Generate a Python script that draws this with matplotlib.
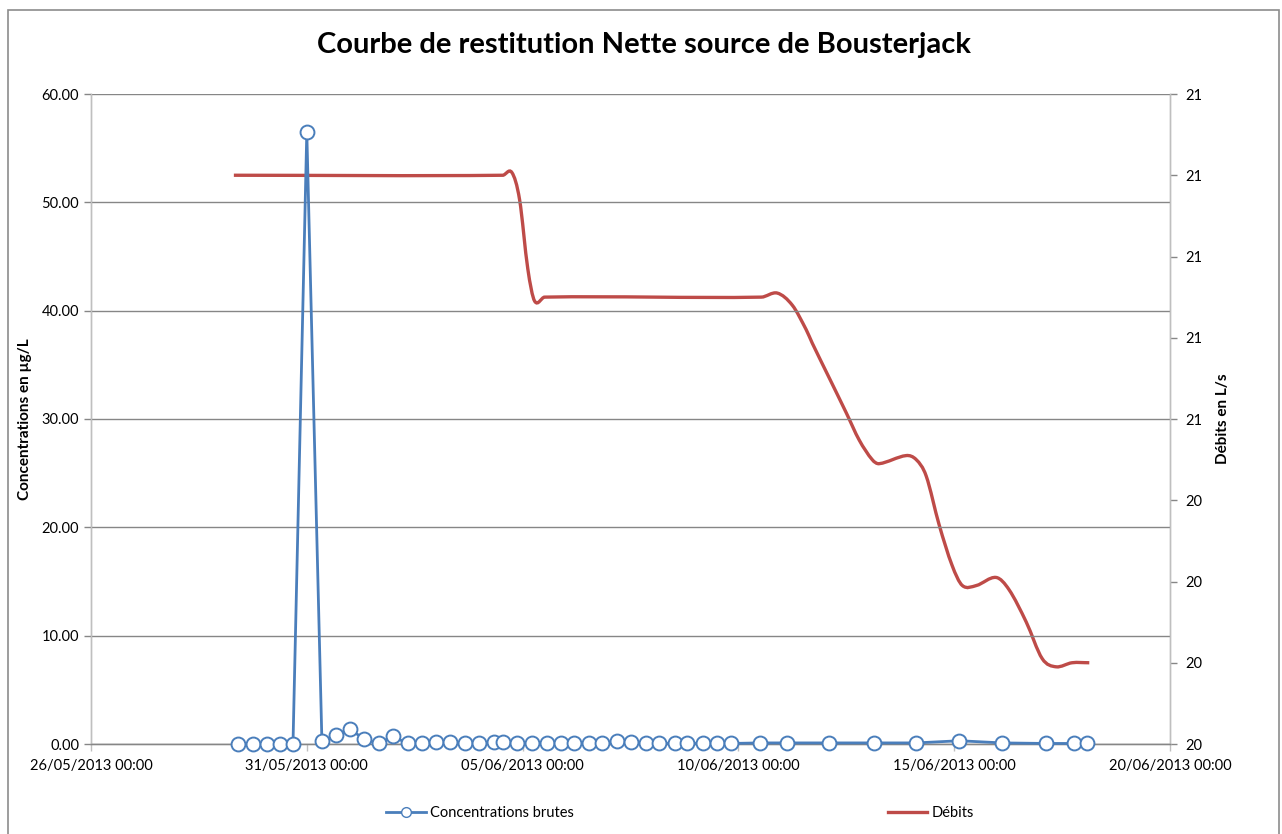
import numpy as np
import pandas as pd
import matplotlib
matplotlib.use("Agg")
import matplotlib.pyplot as plt
import matplotlib.dates as mdates
from matplotlib.ticker import FuncFormatter, MultipleLocator
from matplotlib.lines import Line2D
from matplotlib.patches import Rectangle, PathPatch
from matplotlib.path import Path

plt.rcParams['font.family'] = ['Lato', 'DejaVu Sans']

# =========================
# Data (time in days after 26/05/2013 00:00)
# =========================
start = pd.Timestamp("2013-05-26 00:00")

conc_days = [3.40, 3.75, 4.07, 4.375, 4.68, 5.00, 5.35, 5.67, 6.00, 6.32,
             6.67, 6.99, 7.34, 7.66, 7.99, 8.31, 8.66, 8.98, 9.33, 9.54,
             9.86, 10.21, 10.56, 10.88, 11.20, 11.53, 11.85, 12.18, 12.52, 12.87,
             13.17, 13.52, 13.82, 14.17, 14.51, 14.84, 15.49, 16.13, 17.11, 18.15,
             19.12, 20.12, 21.11, 22.13, 22.78, 23.08]
conc_vals = [0, 0, 0, 0, 0, 56.5, 0.25, 0.8, 1.4, 0.45,
             0.05, 0.7, 0.05, 0.05, 0.2, 0.15, 0.05, 0.05, 0.2, 0.2,
             0.05, 0.05, 0.05, 0.05, 0.05, 0.05, 0.05, 0.3, 0.2, 0.05,
             0.05, 0.05, 0.05, 0.05, 0.05, 0.05, 0.1, 0.1, 0.1, 0.1,
             0.1, 0.3, 0.1, 0.05, 0.05, 0.05]

debit_days = [3.31, 9.54, 9.75, 9.93, 10.12, 10.28, 10.51, 15.53, 15.90, 16.25,
              16.57, 16.71, 17.11, 17.50, 17.80, 18.10, 18.26, 18.89, 19.12, 19.35,
              19.65, 19.95, 20.19, 20.51, 20.97, 21.27, 21.67, 22.04, 22.36, 22.73,
              23.13]
debit_vals = [21.20, 21.20, 21.207, 21.14, 20.97, 20.89, 20.90, 20.90, 20.91, 20.88,
              20.82, 20.787, 20.70, 20.615, 20.548, 20.50, 20.49, 20.51, 20.50, 20.46,
              20.34, 20.24, 20.19, 20.19, 20.21, 20.18, 20.10, 20.01, 19.99, 20.00,
              20.00]

conc_t = start + pd.to_timedelta(conc_days, unit="D")
debit_t = start + pd.to_timedelta(debit_days, unit="D")

blue = "#4A7EBB"
red = "#BE4B48"
grid_c = "#868686"
spine_c = "#BFBFBF"


def smooth_path(xs, ys):
    # smoothed line like Excel: cubic Hermite segments written as Beziers
    xs = np.asarray(xs, float)
    ys = np.asarray(ys, float)
    n = len(xs)
    m = np.zeros(n)
    for i in range(n):
        a = max(i - 1, 0)
        b = min(i + 1, n - 1)
        m[i] = (ys[b] - ys[a]) / (xs[b] - xs[a])
    verts = [(xs[0], ys[0])]
    codes = [Path.MOVETO]
    for i in range(n - 1):
        h = (xs[i + 1] - xs[i]) / 3.0
        verts += [(xs[i] + h, ys[i] + m[i] * h),
                  (xs[i + 1] - h, ys[i + 1] - m[i + 1] * h),
                  (xs[i + 1], ys[i + 1])]
        codes += [Path.CURVE4] * 3
    return Path(verts, codes)


# =========================
# Plot
# =========================
fig = plt.figure(figsize=(12.82, 8.34), dpi=100)
fig.patches.append(Rectangle((8 / 1282, -0.01), 1271 / 1282, 1 - 10 / 834 + 0.01,
                             transform=fig.transFigure, fill=False,
                             edgecolor="#8C8C8C", linewidth=1.2))

ax = fig.add_axes([91 / 1282, 90 / 834, 1079 / 1282, 650 / 834])
ax2 = ax.twinx()

ax.set_ylim(0, 60)
ax.yaxis.set_major_locator(MultipleLocator(10))
ax.yaxis.set_major_formatter(FuncFormatter(lambda v, p: f"{v:.2f}"))
ax.grid(axis="y", color=grid_c, linewidth=1.0)
ax.set_axisbelow(True)

ax.set_xlim(pd.Timestamp("2013-05-26"), pd.Timestamp("2013-06-20"))
ax.set_xticks(pd.date_range("2013-05-26", "2013-06-20", freq="5D"))
ax.xaxis.set_major_formatter(mdates.DateFormatter("%d/%m/%Y %H:%M"))

ax2.set_ylim(19.8, 21.4)
ax2.set_yticks(np.arange(9) * 0.2 + 19.8)
ax2.yaxis.set_major_formatter(FuncFormatter(lambda v, p: f"{v:.0f}"))

for a in (ax, ax2):
    a.spines["top"].set_visible(False)
    for s in ("left", "right", "bottom"):
        a.spines[s].set_color(spine_c)
        a.spines[s].set_linewidth(1.0)
    a.tick_params(axis="both", colors=spine_c, labelcolor="black",
                  labelsize=10.5, length=5, width=1.0)
ax.spines["bottom"].set_color(grid_c)
ax.tick_params(axis="y", colors=grid_c, labelcolor="black")
ax2.tick_params(axis="y", colors=grid_c, labelcolor="black", pad=6)
ax.tick_params(axis="x", pad=6)

debit_path = smooth_path(mdates.date2num(debit_t), debit_vals)
ax2.add_patch(PathPatch(debit_path, fill=False, edgecolor=red, linewidth=2.4,
                        transform=ax2.transData, zorder=2))
ax.plot(conc_t, conc_vals, color=blue, linewidth=2.0, marker="o",
        markersize=10, markerfacecolor="white", markeredgecolor=blue,
        markeredgewidth=1.4, zorder=3, clip_on=False)
ax.set_zorder(ax2.get_zorder() + 1)
ax.patch.set_visible(False)

ax.set_ylabel("Concentrations en µg/L", fontsize=11, fontweight="bold", labelpad=7)
ax2.set_ylabel("Débits en L/s", fontsize=11, fontweight="bold", labelpad=10)

fig.text(644 / 1282, 1 - 45 / 834, "Courbe de restitution Nette source de Bousterjack",
         ha="center", va="center", fontsize=21, fontweight="bold")

h1 = Line2D([], [], color=blue, linewidth=2.0, marker="o", markersize=7,
            markerfacecolor="white", markeredgecolor=blue)
h2 = Line2D([], [], color=red, linewidth=2.4)
fig.legend([h1, h2], ["Concentrations brutes", "Débits"], loc="center",
           bbox_to_anchor=(680 / 1282, 21 / 834), ncol=2, frameon=False,
           fontsize=10.5, handlelength=2.7, handletextpad=0.3, columnspacing=21.5)

fig.savefig("out.png", dpi=100)
plt.close()
